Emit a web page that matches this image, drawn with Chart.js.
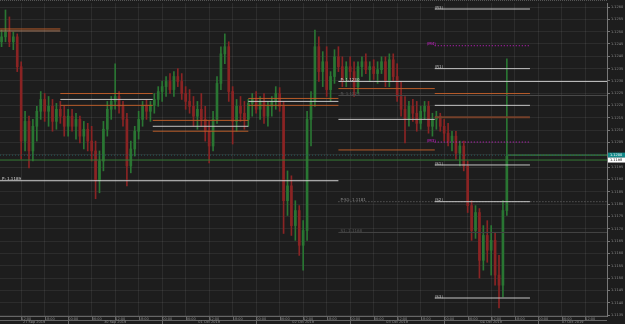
<!DOCTYPE html>
<html>
<head>
<meta charset="utf-8">
<script src="https://cdn.jsdelivr.net/npm/chart.js@4.4.0/dist/chart.umd.min.js"></script>
<style>
  html, body { margin: 0; padding: 0; background: #1d1d1d; }
  canvas { display: block; }
</style>
</head>
<body>
<canvas id="chart" width="625" height="324"></canvas>
<script>
// hourly candles, index 0 = 27 Sep 2019 07:00
const opens = [
  1.12459,1.12479,1.12499,1.12459,1.12479,1.12358,1.12056,1.12136,1.12016,1.12116,
  1.12177,1.12225,1.12177,1.12197,1.12136,1.12185,1.12157,1.12116,1.12157,1.12116,
  1.12144,1.12076,1.12104,1.12056,1.12016,1.11895,1.11975,1.12104,1.12185,1.12217,
  1.12237,1.12197,1.12144,1.11955,1.12024,1.12096,1.12144,1.12197,1.12177,1.12201,
  1.12225,1.12257,1.12277,1.12298,1.12265,1.12318,1.12298,1.12249,1.12217,1.12197,
  1.12157,1.12185,1.12144,1.12096,1.12036,1.12144,1.12290,1.12410,1.12439,1.12257,
  1.12136,1.12197,1.12169,1.12144,1.12209,1.12225,1.12185,1.12217,1.12157,1.12197,
  1.12217,1.12249,1.12197,1.11814,1.11874,1.11713,1.11774,1.11633,1.11693,1.12144,
  1.12217,1.12439,1.12338,1.12378,1.12265,1.12318,1.12398,1.12358,1.12306,1.12358,
  1.12338,1.12277,1.12358,1.12378,1.12346,1.12358,1.12330,1.12346,1.12378,1.12298,
  1.12386,1.12318,1.12237,1.12185,1.12144,1.12197,1.12169,1.12128,1.12177,1.12197,
  1.12116,1.12144,1.12157,1.12116,1.12088,1.12056,1.12076,1.12007,1.12036,1.11955,
  1.11794,1.11693,1.11766,1.11572,1.11673,1.11613,1.11653,1.11512,1.11471,1.11774
];
const highs = [
  1.12507,1.12588,1.12560,1.12499,1.12491,1.12378,1.12177,1.12157,1.12144,1.12197,
  1.12257,1.12249,1.12237,1.12225,1.12209,1.12217,1.12197,1.12185,1.12185,1.12169,
  1.12157,1.12136,1.12128,1.12116,1.12056,1.12016,1.12136,1.12217,1.12237,1.12370,
  1.12257,1.12217,1.12169,1.12056,1.12116,1.12177,1.12217,1.12225,1.12217,1.12249,
  1.12277,1.12298,1.12318,1.12330,1.12338,1.12350,1.12330,1.12277,1.12265,1.12237,
  1.12217,1.12249,1.12197,1.12136,1.12177,1.12318,1.12439,1.12491,1.12459,1.12277,
  1.12225,1.12237,1.12217,1.12225,1.12249,1.12257,1.12237,1.12249,1.12217,1.12237,
  1.12277,1.12273,1.12217,1.11935,1.11915,1.11814,1.11794,1.11733,1.12177,1.12257,
  1.12507,1.12479,1.12419,1.12439,1.12338,1.12427,1.12439,1.12398,1.12378,1.12398,
  1.12378,1.12378,1.12398,1.12410,1.12378,1.12386,1.12378,1.12398,1.12398,1.12410,
  1.12410,1.12370,1.12298,1.12237,1.12217,1.12225,1.12217,1.12197,1.12217,1.12217,
  1.12169,1.12177,1.12169,1.12144,1.12128,1.12096,1.12096,1.12056,1.12056,1.11975,
  1.11814,1.11794,1.11782,1.11713,1.11733,1.11713,1.11685,1.11592,1.11814,1.12390
];
const lows = [
  1.12439,1.12459,1.12439,1.12427,1.12338,1.11983,1.12016,1.11947,1.11975,1.12056,
  1.12144,1.12136,1.12116,1.12096,1.12104,1.12128,1.12076,1.12076,1.12096,1.12064,
  1.12048,1.12024,1.12016,1.11975,1.11822,1.11846,1.11935,1.12076,1.12144,1.12185,
  1.12169,1.12116,1.11874,1.11927,1.11995,1.12064,1.12116,1.12144,1.12136,1.12169,
  1.12197,1.12217,1.12237,1.12249,1.12237,1.12277,1.12225,1.12185,1.12169,1.12116,
  1.12104,1.12116,1.12056,1.11967,1.12016,1.12128,1.12265,1.12370,1.12217,1.12044,
  1.12096,1.12136,1.12104,1.12116,1.12157,1.12169,1.12144,1.12128,1.12116,1.12157,
  1.12185,1.12177,1.11681,1.11754,1.11673,1.11653,1.11592,1.11532,1.11653,1.12036,
  1.12197,1.12298,1.12277,1.12237,1.12217,1.12290,1.12338,1.12277,1.12277,1.12306,
  1.12237,1.12249,1.12318,1.12330,1.12298,1.12306,1.12290,1.12330,1.12277,1.12277,
  1.12298,1.12217,1.12157,1.12048,1.12116,1.12136,1.12096,1.12104,1.12144,1.12088,
  1.12076,1.12104,1.12096,1.12056,1.12036,1.12016,1.11983,1.11955,1.11935,1.11766,
  1.11653,1.11661,1.11500,1.11532,1.11564,1.11512,1.11471,1.11379,1.11423,1.11754
];
const closes = [
  1.12479,1.12499,1.12459,1.12479,1.12358,1.12056,1.12136,1.12016,1.12116,1.12177,
  1.12225,1.12177,1.12197,1.12136,1.12185,1.12157,1.12116,1.12157,1.12116,1.12144,
  1.12076,1.12104,1.12056,1.12016,1.11895,1.11975,1.12104,1.12185,1.12217,1.12237,
  1.12197,1.12144,1.11955,1.12024,1.12096,1.12144,1.12197,1.12177,1.12201,1.12225,
  1.12257,1.12277,1.12298,1.12265,1.12318,1.12298,1.12249,1.12217,1.12197,1.12157,
  1.12185,1.12144,1.12096,1.12036,1.12144,1.12290,1.12410,1.12439,1.12257,1.12136,
  1.12197,1.12169,1.12144,1.12209,1.12225,1.12185,1.12217,1.12157,1.12197,1.12217,
  1.12249,1.12197,1.11814,1.11874,1.11713,1.11774,1.11633,1.11693,1.12144,1.12217,
  1.12439,1.12338,1.12378,1.12265,1.12318,1.12398,1.12358,1.12306,1.12358,1.12338,
  1.12277,1.12358,1.12378,1.12346,1.12358,1.12330,1.12346,1.12378,1.12298,1.12386,
  1.12318,1.12237,1.12185,1.12144,1.12197,1.12169,1.12128,1.12177,1.12197,1.12116,
  1.12144,1.12157,1.12116,1.12088,1.12056,1.12076,1.12007,1.12036,1.11955,1.11794,
  1.11693,1.11766,1.11572,1.11673,1.11613,1.11653,1.11512,1.11471,1.11774,1.11995
];

// x range (candle index) and y range (price)
const xMin = -0.4, xMax = 154.57;
const yMin = 1.11346, yMax = 1.12616;
const yStep = 0.0005;

// days on the time axis
const dayStarts = [-0.4, 17, 41, 65, 89, 113, 137];
const dayLabels = ["27 Sep 2019", "30 Sep 2019", "01 Oct 2019", "02 Oct 2019", "03 Oct 2019", "04 Oct 2019", "07 Oct 2019"];
const firstHour = 7;

// session levels (orange / white / orange)
const sessionStart = [-0.4, 15, 38.6, 63, 86];
const sessionEnd = [15, 38.6, 63, 86, 110.6];
const sessionHigh = [1.12511, 1.12249, 1.12140, 1.12229, 1.12269];
const sessionMid = [1.12503, 1.12225, 1.12116, 1.12217, 1.12144];
const sessionLow = [null, 1.12201, 1.12096, 1.12201, 1.12020];

// right block of levels
const camFrom = 110.6, camTo = 134.9;
const camNames = ["(R3)", "(M4)", "(R1)", "", "", "", "(M3)", "(S1)", "(S2)", "(S3)"];
const camValues = [1.12592, 1.12443, 1.12350, 1.12249, 1.12201, 1.12153, 1.12052, 1.11959, 1.11810, 1.11419];

// daily pivots
const pivotNames = ["P", "P", "R", "P-S1", "S1"];
const pivotValues = [1.11895, 1.12298, 1.12241, 1.11810, 1.11685];
const pivotFrom = [-0.4, 86, 86, 86, 86];

const lastPrice = 1.11999;
const otherPrice = 1.11979;
const lastFrom = 129.3;

const up = closes.map((c, i) => c >= opens[i]);
const candleColor = up.map(u => u ? "#2a7633" : "#8a2424");
const wickData = opens.map((_, i) => ({ x: i, y: [lows[i], highs[i]] }));
const bodyData = opens.map((_, i) => ({ x: i, y: [opens[i], closes[i]] }));

const datasets = [];
function hline(x0, x1, v, color, dash, w) {
  datasets.push({
    type: "line",
    data: [{ x: x0, y: v }, { x: x1, y: v }],
    borderColor: color,
    borderWidth: w || 1,
    borderDash: dash || [],
    pointRadius: 0,
    fill: false,
    order: 0
  });
}

const orange = "#b85c2a", white = "#c4c4c4", magenta = "#d020d0";

sessionStart.forEach((s, k) => {
  hline(s, sessionEnd[k], sessionHigh[k], orange);
  hline(s, sessionEnd[k], sessionMid[k], k === 0 ? "#a8785a" : white);
  if (sessionLow[k] !== null) hline(s, sessionEnd[k], sessionLow[k], orange);
});

camValues.forEach((v, k) => {
  if (k === 1 || k === 6) hline(camFrom, camTo, v, magenta, [1, 2]);
  else if (k === 3) hline(camFrom, camTo, v, orange);
  else if (k === 5) hline(camFrom, camTo, v, "#74402a", null, 2);
  else hline(camFrom, camTo, v, white);
});

hline(pivotFrom[0], 86, pivotValues[0], "#d0d0d0");
hline(pivotFrom[1], xMax, pivotValues[1], white);
hline(pivotFrom[2], xMax, pivotValues[2], "#4a4a4a");
hline(pivotFrom[3], xMax, pivotValues[3], "#707070", [1, 2]);
hline(pivotFrom[4], xMax, pivotValues[4], "#444444");

hline(xMin, xMax, lastPrice, "#265c5c", [1, 2]);
hline(xMin, xMax, otherPrice, "#367a36");
hline(lastFrom, xMax, lastPrice, "#3a9444");

datasets.push({
  type: "bar", data: wickData, backgroundColor: candleColor,
  barThickness: 1, grouped: false, borderWidth: 0, order: 1
});
datasets.push({
  type: "bar", data: bodyData, backgroundColor: candleColor,
  barThickness: 2, grouped: false, borderWidth: 0, order: 1
});

const timeTicks = [];
for (let i = 5; i <= xMax; i += 6) timeTicks.push(i);

const overlay = {
  id: "overlay",
  beforeDraw(chart) {
    const ctx = chart.ctx;
    ctx.save();
    ctx.fillStyle = "#1d1d1d";
    ctx.fillRect(0, 0, chart.width, chart.height);
    ctx.restore();
  },
  afterDraw(chart) {
    const { ctx, chartArea: a, scales: { x, y } } = chart;
    ctx.save();
    // top dotted border
    ctx.strokeStyle = "#555";
    ctx.setLineDash([1, 1]);
    ctx.beginPath(); ctx.moveTo(0, 0.5); ctx.lineTo(a.right, 0.5); ctx.stroke();
    ctx.setLineDash([]);

    // time axis separators and date row
    ctx.strokeStyle = "#666";
    ctx.beginPath();
    timeTicks.forEach(t => {
      const px = Math.round(x.getPixelForValue(t)) + 0.5;
      ctx.moveTo(px, a.bottom); ctx.lineTo(px, a.bottom + 4);
    });
    ctx.moveTo(0, a.bottom + 4.5); ctx.lineTo(a.right, a.bottom + 4.5);
    dayStarts.forEach((d, k) => {
      if (k === 0) return;
      const px = Math.round(x.getPixelForValue(d)) + 0.5;
      ctx.moveTo(px, a.bottom + 4); ctx.lineTo(px, chart.height);
    });
    ctx.stroke();

    ctx.fillStyle = "#8c8c8c";
    ctx.font = '3.5px "DejaVu Sans"';
    ctx.textAlign = "center";
    ctx.textBaseline = "middle";
    dayStarts.forEach((d, k) => {
      const x0 = x.getPixelForValue(d);
      const x1 = k + 1 < dayStarts.length ? x.getPixelForValue(dayStarts[k + 1]) : a.right;
      ctx.fillText(dayLabels[k], (x0 + x1) / 2, a.bottom + 6.2);
    });

    // level labels
    ctx.textAlign = "left";
    ctx.textBaseline = "bottom";
    ctx.font = '4px "DejaVu Sans"';
    const pivotColors = ["#d8d8d8", "#d8d8d8", "#5a5a5a", "#8a8a8a", "#555555"];
    pivotValues.forEach((v, k) => {
      ctx.fillStyle = pivotColors[k];
      ctx.fillText(pivotNames[k] + ": " + v.toFixed(4), x.getPixelForValue(pivotFrom[k]) + 2, y.getPixelForValue(v) + 0.5);
    });
    camNames.forEach((n, k) => {
      if (!n) return;
      const isM = k === 1 || k === 6;
      ctx.fillStyle = isM ? magenta : "#bdbdbd";
      const px = x.getPixelForValue(camFrom) + (isM ? -8 : 0);
      ctx.fillText(n, px, y.getPixelForValue(camValues[k]) + 0.5);
    });

    // price boxes on the axis
    ctx.textAlign = "left";
    ctx.textBaseline = "middle";
    ctx.font = '3.5px "DejaVu Sans"';
    const boxes = [[lastPrice, "#138a8a", "#ffffff"], [otherPrice, "#ffffff", "#111111"]];
    boxes.forEach(([v, bg, fg]) => {
      const py = y.getPixelForValue(v);
      ctx.fillStyle = bg;
      ctx.fillRect(a.right + 1, py - 2.5, 17, 5);
      ctx.fillStyle = fg;
      ctx.fillText(v.toFixed(4), a.right + 3, py + 0.2);
    });
    ctx.restore();
  }
};

new Chart(document.getElementById("chart"), {
  type: "bar",
  data: { datasets: datasets },
  options: {
    responsive: false,
    animation: false,
    layout: { padding: { top: 1, left: 0, right: 0, bottom: 0 } },
    plugins: { legend: { display: false }, tooltip: { enabled: false } },
    scales: {
      x: {
        type: "linear",
        min: xMin,
        max: xMax,
        offset: false,
        afterBuildTicks: s => { s.ticks = timeTicks.map(v => ({ value: v })); },
        afterFit: s => { s.height = 8; },
        grid: { color: "rgba(255,255,255,0.07)", drawTicks: false, offset: false },
        border: { color: "#666" },
        ticks: {
          align: "start",
          padding: 0.5,
          maxRotation: 0,
          autoSkip: false,
          color: "#8c8c8c",
          font: { size: 3.5, family: "DejaVu Sans" },
          callback: v => String((Math.round(v) + firstHour) % 24).padStart(2, "0") + ":00"
        }
      },
      y: {
        position: "right",
        min: yMin,
        max: yMax,
        afterFit: s => { s.width = 18; },
        grid: { color: "rgba(255,255,255,0.07)", tickLength: 3, tickColor: "#777" },
        border: { color: "#777" },
        ticks: {
          stepSize: yStep,
          includeBounds: false,
          padding: 1,
          color: "#8c8c8c",
          font: { size: 3.5, family: "DejaVu Sans" },
          callback: v => v.toFixed(4)
        }
      }
    }
  },
  plugins: [overlay]
});
</script>
</body>
</html>
